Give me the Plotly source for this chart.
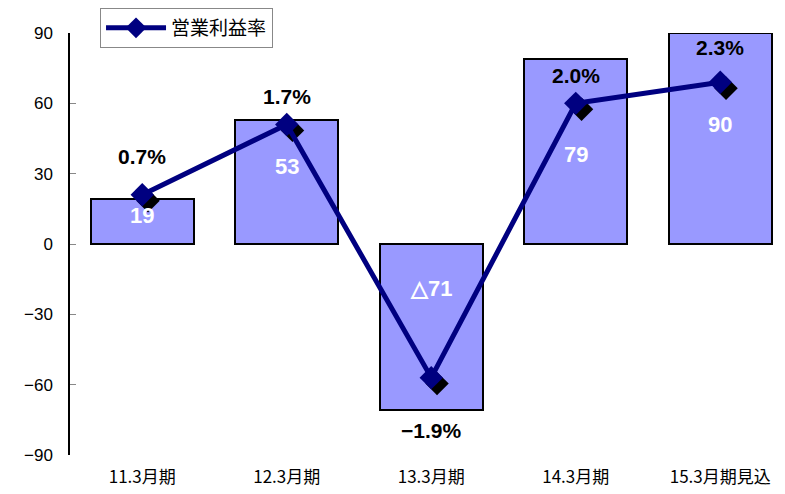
import plotly.graph_objects as go

categories = ["11.3月期", "12.3月期", "13.3月期", "14.3月期", "15.3月期見込"]
operating_profit = [19, 53, -71, 79, 90]
profit_labels = ["19", "53", "△71", "79", "90"]
margin_pct = [0.7, 1.7, -1.9, 2.0, 2.3]
margin_labels = ["0.7%", "1.7%", "-1.9%", "2.0%", "2.3%"]
y_ticks = [90, 60, 30, 0, -30, -60, -90]

idx = list(range(len(categories)))
XR = [-0.5, 4.448]

fig = go.Figure()
fig.add_trace(go.Bar(
    x=categories, y=operating_profit, width=0.71,
    marker=dict(color="#9999FF", line=dict(color="black", width=2)),
    showlegend=False, hoverinfo="skip",
))
# shadow of markers
fig.add_trace(go.Scatter(
    x=[i + 0.04 for i in idx], y=[p - 0.085 for p in margin_pct],
    mode="markers", xaxis="x2", yaxis="y2",
    marker=dict(symbol="diamond", size=18, color="black"),
    showlegend=False, hoverinfo="skip",
))
fig.add_trace(go.Scatter(
    x=idx, y=margin_pct, name="営業利益率",
    mode="lines+markers", xaxis="x2", yaxis="y2",
    line=dict(color="#000080", width=5),
    marker=dict(symbol="diamond", size=18, color="#000080"),
))

# bar labels (white) placed inside bars
bar_label_shift = [-7, -20, 52, -41, -39]
for c, v, t, s in zip(categories, operating_profit, profit_labels, bar_label_shift):
    fig.add_annotation(x=c, y=v + s, text="<b>" + t + "</b>", showarrow=False,
                       font=dict(family="Liberation Sans, Arial", size=22, color="white"))
# margin labels
pct_label_shift = [0.55, 0.4, -0.75, 0.4, 0.5]
for i, p, t, s in zip(idx, margin_pct, margin_labels, pct_label_shift):
    fig.add_annotation(x=i, y=p + s, xref="x2", yref="y2", text="<b>" + t.replace("-", "−") + "</b>",
                       showarrow=False,
                       font=dict(family="Liberation Sans Narrow, Liberation Sans, Arial", size=21, color="black"))

fig.update_layout(
    width=777, height=486,
    margin=dict(l=62, r=0, t=24, b=39),
    paper_bgcolor="white", plot_bgcolor="white",
    font=dict(family="Noto Sans CJK JP, Liberation Sans", color="black"),
    xaxis=dict(type="category", range=XR, showline=False, showgrid=False, ticks="",
               tickfont=dict(size=17, family="Noto Sans CJK JP"), ticklabelstandoff=10),
    xaxis2=dict(overlaying="x", range=XR, visible=False),
    yaxis=dict(range=[-90, 90], tickvals=y_ticks, showgrid=False, zeroline=False,
               showline=True, linecolor="black", linewidth=1.5,
               ticks="inside", ticklen=6, tickcolor="#888888",
               tickfont=dict(size=17, family="Liberation Sans, Arial"), ticklabelstandoff=12),
    yaxis2=dict(overlaying="y", range=[-3, 3], visible=False),
    legend=dict(x=0.042, y=1.059, xanchor="left", yanchor="top",
                bordercolor="#888888", borderwidth=1, bgcolor="white",
                font=dict(size=19, family="Noto Sans CJK JP"), itemwidth=60),
    bargap=0,
)

fig.write_html("out.html")
